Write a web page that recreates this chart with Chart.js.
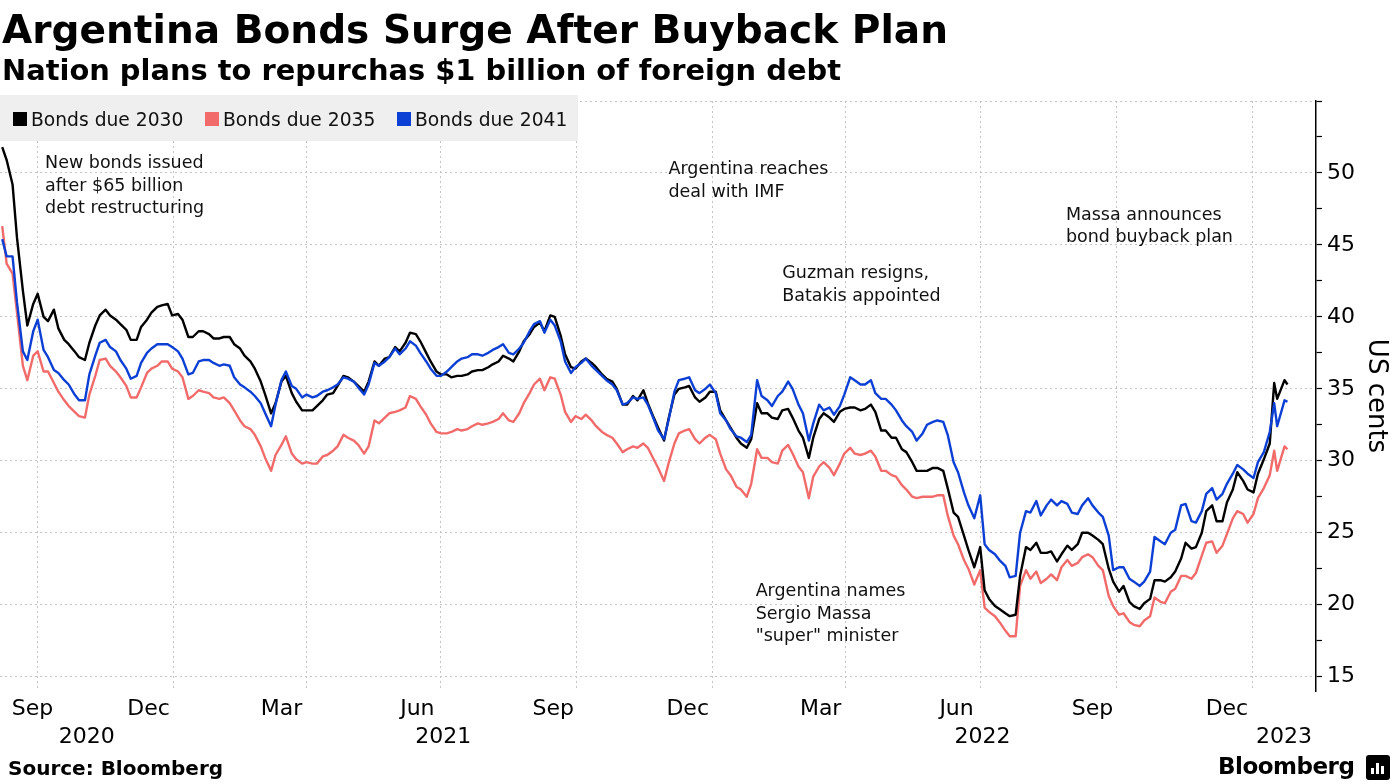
<!DOCTYPE html>
<html>
<head>
<meta charset="utf-8">
<script src="https://cdn.jsdelivr.net/npm/chart.js@4.4.1/dist/chart.umd.min.js"></script>
<style>
  html, body { margin: 0; padding: 0; background: #fff; }
  body { width: 1395px; height: 784px; position: relative; overflow: hidden; font-family: 'DejaVu Sans', sans-serif; color: #000; }
  #chart { position: absolute; left: 0; top: 0; }
  .txt { position: absolute; white-space: nowrap; line-height: 1; font-weight: bold; }
  #title { left: 2px; top: 10px; font-size: 39.1px; }
  #subtitle { left: 2px; top: 55.5px; font-size: 28.9px; }
  #source { left: 8px; top: 758px; font-size: 20px; }
  #brand { left: 1218px; top: 755px; font-size: 23px; letter-spacing: -0.5px; }
  #brandIcon { position: absolute; left: 1366px; top: 755px; width: 24px; height: 25px; background: #000; border-radius: 3px; }
  #brandIcon span { position: absolute; bottom: 6px; width: 3px; background: #fff; }
</style>
</head>
<body>
<canvas id="chart" width="1395" height="784"></canvas>
<div id="title" class="txt">Argentina Bonds Surge After Buyback Plan</div>
<div id="subtitle" class="txt">Nation plans to repurchas $1 billion of foreign debt</div>
<div id="source" class="txt">Source: Bloomberg</div>
<div id="brand" class="txt">Bloomberg</div>
<div id="brandIcon"><span style="left:5px;height:6px"></span><span style="left:10px;height:11px"></span><span style="left:15px;height:8px"></span></div>
<script>
// twice-weekly prices (US cents), grouped by month
const dates = [
  '2020-09-07','2020-09-10','2020-09-14','2020-09-17','2020-09-21','2020-09-24','2020-09-28',
  '2020-10-01','2020-10-05','2020-10-08','2020-10-12','2020-10-15','2020-10-19','2020-10-22','2020-10-26','2020-10-29',
  '2020-11-02','2020-11-05','2020-11-09','2020-11-12','2020-11-16','2020-11-19','2020-11-23','2020-11-26','2020-11-30',
  '2020-12-03','2020-12-07','2020-12-10','2020-12-14','2020-12-17','2020-12-21','2020-12-24','2020-12-28','2020-12-31',
  '2021-01-04','2021-01-07','2021-01-11','2021-01-14','2021-01-18','2021-01-21','2021-01-25','2021-01-28',
  '2021-02-01','2021-02-04','2021-02-08','2021-02-11','2021-02-15','2021-02-18','2021-02-22','2021-02-25',
  '2021-03-01','2021-03-04','2021-03-08','2021-03-11','2021-03-15','2021-03-18','2021-03-22','2021-03-25','2021-03-29',
  '2021-04-01','2021-04-05','2021-04-08','2021-04-12','2021-04-15','2021-04-19','2021-04-22','2021-04-26','2021-04-29',
  '2021-05-03','2021-05-06','2021-05-10','2021-05-13','2021-05-17','2021-05-20','2021-05-24','2021-05-27','2021-05-31',
  '2021-06-03','2021-06-07','2021-06-10','2021-06-14','2021-06-17','2021-06-21','2021-06-24','2021-06-28',
  '2021-07-01','2021-07-05','2021-07-08','2021-07-12','2021-07-15','2021-07-19','2021-07-22','2021-07-26','2021-07-29',
  '2021-08-02','2021-08-05','2021-08-09','2021-08-12','2021-08-16','2021-08-19','2021-08-23','2021-08-26','2021-08-30',
  '2021-09-02','2021-09-06','2021-09-09','2021-09-13','2021-09-16','2021-09-20','2021-09-23','2021-09-27','2021-09-30',
  '2021-10-04','2021-10-07','2021-10-11','2021-10-14','2021-10-18','2021-10-21','2021-10-25','2021-10-28',
  '2021-11-01','2021-11-04','2021-11-08','2021-11-11','2021-11-15','2021-11-18','2021-11-22','2021-11-25','2021-11-29',
  '2021-12-02','2021-12-06','2021-12-09','2021-12-13','2021-12-16','2021-12-20','2021-12-23','2021-12-27','2021-12-30',
  '2022-01-03','2022-01-06','2022-01-10','2022-01-13','2022-01-17','2022-01-20','2022-01-24','2022-01-27','2022-01-31',
  '2022-02-03','2022-02-07','2022-02-10','2022-02-14','2022-02-17','2022-02-21','2022-02-24','2022-02-28',
  '2022-03-03','2022-03-07','2022-03-10','2022-03-14','2022-03-17','2022-03-21','2022-03-24','2022-03-28','2022-03-31',
  '2022-04-04','2022-04-07','2022-04-11','2022-04-14','2022-04-18','2022-04-21','2022-04-25','2022-04-28',
  '2022-05-02','2022-05-05','2022-05-09','2022-05-12','2022-05-16','2022-05-19','2022-05-23','2022-05-26','2022-05-30',
  '2022-06-02','2022-06-06','2022-06-09','2022-06-13','2022-06-16','2022-06-20','2022-06-23','2022-06-27',
  '2022-07-01','2022-07-04','2022-07-07','2022-07-11','2022-07-14','2022-07-18','2022-07-21','2022-07-25','2022-07-28',
  '2022-08-01','2022-08-04','2022-08-08','2022-08-11','2022-08-15','2022-08-18','2022-08-22','2022-08-25','2022-08-29',
  '2022-09-01','2022-09-05','2022-09-08','2022-09-12','2022-09-15','2022-09-19','2022-09-22','2022-09-26','2022-09-29',
  '2022-10-03','2022-10-06','2022-10-10','2022-10-13','2022-10-17','2022-10-20','2022-10-24','2022-10-27','2022-10-31',
  '2022-11-03','2022-11-07','2022-11-10','2022-11-14','2022-11-17','2022-11-21','2022-11-24','2022-11-28',
  '2022-12-01','2022-12-05','2022-12-08','2022-12-12','2022-12-15','2022-12-19','2022-12-22','2022-12-26','2022-12-29',
  '2023-01-02','2023-01-05','2023-01-09','2023-01-13','2023-01-16','2023-01-18','2023-01-23','2023-01-25'
];

const bonds2030 = [
  51.8, 50.9, 49.2, 45.5, 41.8, 39.4, 40.9,
  41.6, 40.0, 39.7, 40.5, 39.2, 38.4, 38.1, 37.6, 37.2,
  37.0, 38.2, 39.4, 40.1, 40.5, 40.1, 39.8, 39.5, 39.1,
  38.4, 38.4, 39.3, 39.8, 40.3, 40.7, 40.8, 40.9, 40.1,
  40.2, 39.8, 38.6, 38.6, 39.0, 39.0, 38.8, 38.5,
  38.5, 38.6, 38.6, 38.1, 37.8, 37.3, 36.9, 36.4,
  35.5, 34.6, 33.3, 34.0, 35.5, 35.9, 34.7, 34.1, 33.5,
  33.5, 33.5, 33.8, 34.2, 34.6, 34.7, 35.2, 35.9, 35.8,
  35.5, 35.2, 34.8, 35.5, 36.9, 36.6, 37.1, 37.2, 37.9,
  37.6, 38.2, 38.9, 38.8, 38.3, 37.5, 36.9, 36.2,
  36.0, 36.0, 35.8, 35.9, 35.9, 36.0, 36.2, 36.3, 36.3,
  36.5, 36.7, 36.9, 37.3, 37.1, 36.9, 37.6, 38.3, 38.8,
  39.3, 39.6, 39.0, 40.1, 40.0, 38.7, 37.4, 36.5, 36.4,
  36.9, 37.1, 36.8, 36.5, 36.0, 35.7, 35.5, 35.0,
  33.9, 33.9, 34.5, 34.2, 34.9, 34.0, 33.0, 32.3, 31.4,
  32.9, 34.6, 35.0, 35.1, 35.2, 34.4, 34.1, 34.4, 34.8,
  34.8, 33.5, 32.8, 32.3, 31.6, 31.2, 30.9, 31.5, 34.0,
  33.3, 33.3, 33.0, 32.9, 33.5, 33.6, 33.0, 32.1,
  31.6, 30.2, 31.6, 32.9, 33.3, 33.0, 32.7, 33.4, 33.6,
  33.7, 33.7, 33.5, 33.6, 33.9, 33.4, 32.1, 32.1,
  31.6, 31.6, 30.8, 30.6, 29.9, 29.3, 29.3, 29.3, 29.5,
  29.5, 29.3, 28.1, 26.4, 26.1, 24.8, 23.8, 22.6,
  24.0, 21.0, 20.4, 19.9, 19.7, 19.4, 19.2, 19.3, 22.0,
  24.0, 23.8, 24.3, 23.6, 23.6, 23.7, 23.0, 23.5, 24.1,
  23.8, 24.2, 25.0, 25.0, 24.8, 24.5, 24.2, 22.5, 21.6,
  20.9, 21.3, 20.2, 19.9, 19.7, 20.1, 20.4, 21.7, 21.7,
  21.6, 21.9, 22.3, 23.2, 24.3, 23.9, 24.0, 25.0,
  26.5, 26.9, 25.8, 25.8, 27.1, 28.0, 29.2, 28.6, 28.0,
  27.8, 29.1, 30.1, 31.2, 35.4, 34.3, 35.6, 35.3
];

const bonds2035 = [
  46.3, 43.7, 43.0, 40.3, 36.6, 35.6, 37.3,
  37.6, 36.2, 36.2, 35.4, 34.8, 34.2, 33.8, 33.4, 33.1,
  33.0, 34.6, 35.9, 37.0, 37.1, 36.6, 36.2, 35.8, 35.2,
  34.4, 34.4, 35.1, 36.1, 36.4, 36.6, 36.9, 36.9, 36.4,
  36.2, 35.8, 34.3, 34.5, 34.9, 34.8, 34.7, 34.4,
  34.3, 34.4, 34.0, 33.5, 32.8, 32.4, 32.2, 31.8,
  31.0, 30.2, 29.3, 30.4, 31.1, 31.7, 30.5, 30.1, 29.8,
  29.9, 29.8, 29.8, 30.3, 30.4, 30.7, 31.0, 31.8, 31.6,
  31.4, 31.1, 30.5, 31.0, 32.8, 32.6, 33.0, 33.3, 33.4,
  33.5, 33.7, 34.5, 34.3, 33.8, 33.2, 32.6, 32.0,
  31.9, 31.9, 32.0, 32.2, 32.1, 32.2, 32.4, 32.6, 32.5,
  32.6, 32.7, 32.9, 33.3, 32.8, 32.7, 33.3, 34.0, 34.7,
  35.3, 35.7, 34.9, 35.8, 35.7, 34.6, 33.4, 32.7, 33.1,
  32.9, 33.2, 32.8, 32.4, 32.0, 31.8, 31.6, 31.2,
  30.6, 30.8, 31.0, 30.9, 31.2, 30.9, 30.1, 29.5, 28.6,
  29.8, 31.2, 31.9, 32.1, 32.2, 31.5, 31.2, 31.6, 31.8,
  31.5, 30.5, 29.4, 29.0, 28.2, 28.0, 27.5, 28.4, 30.8,
  30.2, 30.2, 29.9, 29.8, 30.7, 31.1, 30.5, 29.6,
  29.2, 27.4, 28.9, 29.6, 29.9, 29.5, 29.0, 29.8, 30.5,
  30.9, 30.5, 30.4, 30.5, 30.7, 30.3, 29.3, 29.3,
  29.0, 28.9, 28.3, 28.0, 27.5, 27.4, 27.5, 27.5, 27.5,
  27.6, 27.6, 26.2, 24.8, 24.2, 23.1, 22.5, 21.4,
  22.4, 19.8, 19.5, 19.2, 18.8, 18.2, 17.8, 17.8, 21.3,
  22.4, 21.8, 22.3, 21.5, 21.8, 22.1, 21.7, 22.6, 23.1,
  22.7, 22.9, 23.3, 23.5, 23.3, 22.7, 22.4, 20.6, 19.9,
  19.3, 19.4, 18.8, 18.6, 18.5, 18.9, 19.2, 20.5, 20.2,
  20.1, 20.9, 21.1, 22.0, 22.0, 21.8, 22.2, 23.4,
  24.3, 24.4, 23.6, 24.1, 24.9, 26.0, 26.5, 26.3, 25.7,
  26.3, 27.4, 28.1, 29.0, 30.7, 29.3, 31.0, 30.8
];

const bonds2041 = [
  45.4, 44.2, 44.2, 41.0, 37.6, 37.0, 39.0,
  39.8, 37.7, 37.2, 36.3, 36.1, 35.6, 35.3, 34.6, 34.2,
  34.2, 36.0, 37.3, 38.2, 38.4, 37.9, 37.6, 37.0, 36.4,
  35.7, 35.9, 36.8, 37.5, 37.8, 38.1, 38.1, 38.1, 37.9,
  37.6, 37.1, 36.0, 36.1, 36.9, 37.0, 37.0, 36.8,
  36.6, 36.7, 36.6, 35.8, 35.3, 35.1, 34.8, 34.5,
  34.0, 33.3, 32.4, 33.9, 35.6, 36.2, 35.2, 35.0, 34.4,
  34.6, 34.4, 34.5, 34.8, 34.9, 35.1, 35.3, 35.8, 35.7,
  35.5, 35.1, 34.6, 35.3, 36.8, 36.6, 36.9, 37.2, 37.8,
  37.4, 37.8, 38.3, 38.0, 37.5, 36.9, 36.4, 35.9,
  35.9, 36.2, 36.5, 36.9, 37.1, 37.2, 37.4, 37.4, 37.3,
  37.5, 37.7, 37.9, 38.1, 37.5, 37.4, 37.8, 38.2, 39.0,
  39.5, 39.7, 38.9, 39.8, 39.4, 38.3, 36.9, 36.1, 36.5,
  36.8, 37.1, 36.6, 36.3, 35.9, 35.6, 35.3, 34.9,
  33.9, 34.0, 34.4, 34.3, 34.4, 33.9, 32.9, 32.1, 31.5,
  32.8, 34.8, 35.6, 35.7, 35.8, 34.9, 34.7, 35.0, 35.3,
  34.7, 33.3, 32.8, 32.2, 31.7, 31.6, 31.3, 31.8, 35.6,
  34.5, 34.2, 33.8, 34.5, 34.8, 35.5, 35.0, 33.9,
  33.3, 31.4, 32.6, 33.9, 33.5, 33.7, 33.2, 33.8, 34.6,
  35.8, 35.6, 35.3, 35.3, 35.6, 34.7, 34.3, 34.3,
  33.9, 33.5, 32.8, 32.4, 32.0, 31.4, 31.9, 32.5, 32.7,
  32.8, 32.7, 31.8, 29.9, 29.2, 27.8, 26.9, 26.0,
  27.6, 24.2, 23.8, 23.5, 23.1, 22.7, 21.9, 22.0, 25.0,
  26.5, 26.4, 27.2, 26.2, 26.9, 27.3, 26.9, 27.2, 27.0,
  26.4, 26.3, 26.9, 27.4, 26.9, 26.4, 26.1, 24.8, 22.4,
  22.6, 22.6, 21.8, 21.6, 21.3, 21.6, 22.3, 24.7, 24.4,
  24.2, 25.0, 25.2, 26.9, 27.0, 25.8, 25.7, 26.5,
  27.7, 28.1, 27.3, 27.7, 28.4, 29.1, 29.7, 29.4, 29.1,
  28.8, 29.9, 30.6, 32.0, 34.0, 32.4, 34.2, 34.1
];

const seriesNames = ['Bonds due 2030', 'Bonds due 2035', 'Bonds due 2041'];
const seriesColors = ['#000000', '#f26b6b', '#0c3fd4'];

// axis furniture
const quarterStarts = ['2020-10-01','2021-01-01','2021-04-01','2021-07-01','2021-10-01','2022-01-01','2022-04-01','2022-07-01','2022-10-01','2023-01-01'];
const monthTickDates = ['2020-09-15','2020-12-15','2021-03-15','2021-06-15','2021-09-15','2021-12-15','2022-03-15','2022-06-15','2022-09-15','2022-12-15'];
const monthLabels = ['Sep','Dec','Mar','Jun','Sep','Dec','Mar','Jun','Sep','Dec'];
const yearLabels = ['2020','2021','2022','2023'];
const yTicks = [15, 17.5, 20, 22.5, 25, 27.5, 30, 32.5, 35, 37.5, 40, 42.5, 45, 47.5, 50, 52.5, 55];

const notes = [
  { date: '2020-10-06', value: 50.34, lines: ['New bonds issued', 'after $65 billion', 'debt restructuring'] },
  { date: '2021-12-02', value: 49.92, lines: ['Argentina reaches', 'deal with IMF'] },
  { date: '2022-02-17', value: 42.70, lines: ['Guzman resigns,', 'Batakis appointed'] },
  { date: '2022-08-28', value: 46.75, lines: ['Massa announces', 'bond buyback plan'] },
  { date: '2022-01-30', value: 20.60, lines: ['Argentina names', 'Sergio Massa', '"super" minister'] }
];

const FONT = "'DejaVu Sans', sans-serif";
const origin = Date.parse('2020-10-01T00:00:00Z');
const toDay = s => (Date.parse(s + 'T00:00:00Z') - origin) / 86400000;

const xMin = -25.5, xMax = 865.3;

const days = dates.map(toDay);
const mkData = arr => arr.map((v, i) => ({ x: days[i], y: v }));

// year label sits in the middle of the visible part of that year
const yearTicks = yearLabels.map(y => {
  const a = Math.max(xMin, toDay(y + '-01-01'));
  const b = Math.min(xMax, toDay((+y + 1) + '-01-01'));
  return (a + b) / 2;
});
// keep the first month label inside the canvas, as in the original
const monthTicks = monthTickDates.map(toDay).map(d => Math.max(d, xMin + 22));

const overlay = {
  id: 'overlay',
  afterDraw(chart) {
    const { ctx, scales } = chart;
    ctx.save();
    // annotations
    ctx.fillStyle = '#111';
    ctx.font = '17.5px ' + FONT;
    ctx.textBaseline = 'alphabetic';
    notes.forEach(n => {
      const x = scales.x.getPixelForValue(toDay(n.date));
      const y = scales.y.getPixelForValue(n.value);
      n.lines.forEach((t, i) => ctx.fillText(t, x, y + i * 22.5));
    });
    // legend box
    ctx.fillStyle = '#efefef';
    ctx.fillRect(0, 95, 578, 46);
    ctx.font = '18.7px ' + FONT;
    seriesNames.forEach((name, i) => {
      const x0 = 13 + i * 192;
      ctx.fillStyle = seriesColors[i];
      ctx.fillRect(x0, 112, 14, 14);
      ctx.fillStyle = '#111';
      ctx.fillText(name, x0 + 18, 126);
    });
    ctx.restore();
  }
};

new Chart(document.getElementById('chart'), {
  type: 'line',
  data: {
    datasets: [
      { label: seriesNames[0], data: mkData(bonds2030), borderColor: seriesColors[0], order: 1 },
      { label: seriesNames[1], data: mkData(bonds2035), borderColor: seriesColors[1], order: 2 },
      { label: seriesNames[2], data: mkData(bonds2041), borderColor: seriesColors[2], order: 0 }
    ]
  },
  options: {
    responsive: false,
    animation: false,
    devicePixelRatio: 1,
    layout: { padding: { top: 101, left: 0, right: 0, bottom: 33 } },
    elements: {
      line: { borderWidth: 2.4, tension: 0, borderJoinStyle: 'round', fill: false },
      point: { radius: 0, hitRadius: 0 }
    },
    plugins: {
      legend: { display: false },
      tooltip: { enabled: false }
    },
    scales: {
      x: {
        type: 'linear', position: 'bottom', min: xMin, max: xMax, weight: 0,
        afterBuildTicks: s => { s.ticks = quarterStarts.map(d => ({ value: toDay(d) })); },
        afterFit: s => { s.height = 0; },
        ticks: { display: false },
        grid: { color: '#c4c4c4', lineWidth: 1, drawTicks: false },
        border: { display: false, dash: [2, 3] }
      },
      xm: {
        type: 'linear', position: 'bottom', min: xMin, max: xMax, weight: 1,
        afterBuildTicks: s => { s.ticks = monthTicks.map(v => ({ value: v })); },
        afterFit: s => { s.height = 30; },
        ticks: {
          autoSkip: false, maxRotation: 0, padding: 5, color: '#000',
          font: { family: FONT, size: 22 },
          callback: (v, i) => monthLabels[i]
        },
        grid: { display: false, drawTicks: false },
        border: { display: false }
      },
      xy: {
        type: 'linear', position: 'bottom', min: xMin, max: xMax, weight: 2,
        afterBuildTicks: s => { s.ticks = yearTicks.map(v => ({ value: v })); },
        afterFit: s => { s.height = 30; },
        ticks: {
          autoSkip: false, maxRotation: 0, padding: 3, color: '#000',
          font: { family: FONT, size: 22 },
          callback: (v, i) => yearLabels[i]
        },
        grid: { display: false, drawTicks: false },
        border: { display: false }
      },
      y: {
        type: 'linear', position: 'right', min: 14, max: 55,
        afterBuildTicks: s => { s.ticks = yTicks.map(v => ({ value: v })); },
        afterFit: s => { s.width = 79; },
        ticks: {
          padding: 5, color: '#000',
          font: { family: FONT, size: 22 },
          callback: v => (v % 5 === 0 && v !== 55) ? String(v) : ''
        },
        grid: {
          color: c => (c.tick && c.tick.value % 5 === 0) ? '#c4c4c4' : 'rgba(0,0,0,0)',
          lineWidth: 1, drawTicks: true, tickLength: 6, tickColor: '#000', tickWidth: 1.2
        },
        border: { display: true, color: '#000', width: 1.5, dash: [2, 3] },
        title: {
          display: true, text: 'US cents', color: '#000',
          font: { family: FONT, size: 26 }, padding: { top: 4, bottom: 0 }
        }
      }
    }
  },
  plugins: [overlay]
});
</script>
</body>
</html>
